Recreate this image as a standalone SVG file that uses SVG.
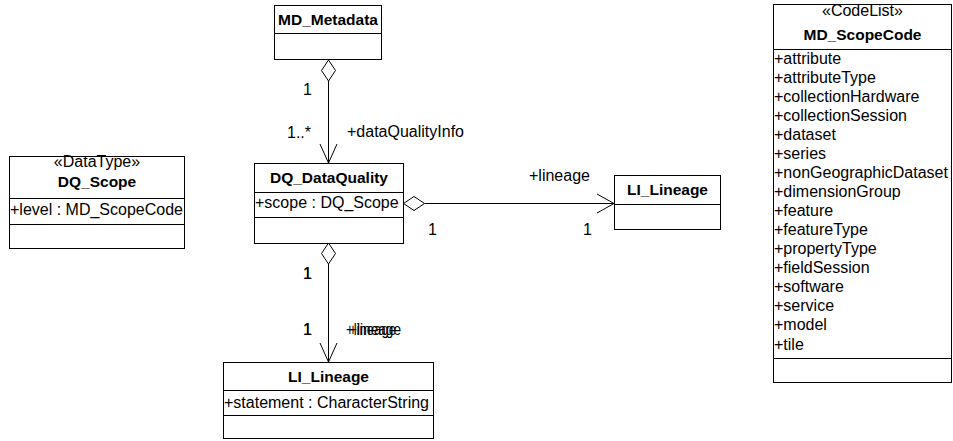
<svg xmlns="http://www.w3.org/2000/svg" width="953" height="441" viewBox="0 0 953 441">
<style>
.box{fill:#fff;stroke:#000;stroke-width:1}
.div{stroke:#000;stroke-width:1}
.t{font-family:"Liberation Sans",Arial,sans-serif;font-size:16px;fill:#000}
.b{font-family:"Liberation Sans",Arial,sans-serif;font-size:15.5px;font-weight:bold;fill:#000}
.c{text-anchor:middle}
.ln{stroke:#000;stroke-width:1;fill:none}
.dia{stroke:#000;stroke-width:1;fill:#fff}
</style>
<rect width="953" height="441" fill="#fff"/>
<g id="connectors">
  <!-- MD_Metadata to DQ_DataQuality -->
  <line class="ln" x1="328.5" y1="81" x2="328.5" y2="163"/>
  <polygon class="dia" points="328.5,60 335.5,70.5 328.5,81 321.5,70.5"/>
  <polyline class="ln" points="320,144 328.5,163 337,144"/>
  <text class="t" x="303" y="95">1</text>
  <text class="t" x="287" y="138">1..*</text>
  <text class="t" x="347" y="137">+dataQualityInfo</text>
  <!-- DQ_DataQuality to LI_Lineage (right) -->
  <line class="ln" x1="425" y1="203.5" x2="614" y2="203.5"/>
  <polygon class="dia" points="403.5,203.5 414,196.5 424.5,203.5 414,210.5"/>
  <polyline class="ln" points="597,194 614,203.5 597,213"/>
  <text class="t" x="529" y="181">+lineage</text>
  <text class="t" x="428" y="235">1</text>
  <text class="t" x="583" y="235">1</text>
  <!-- DQ_DataQuality to LI_Lineage (bottom) -->
  <line class="ln" x1="328.5" y1="264" x2="328.5" y2="362"/>
  <polygon class="dia" points="328.5,243 335.5,253.5 328.5,264 321.5,253.5"/>
  <polyline class="ln" points="320,343 328.5,362 337,343"/>
  <text class="t" x="303" y="279">1</text>
  <text class="t" x="303" y="279">1</text>
  <text class="t" x="303" y="335">1</text>
  <text class="t" x="303" y="335">1</text>
  <text class="t" x="346" y="335" font-size="14" textLength="50" lengthAdjust="spacingAndGlyphs">+lineage</text>
  <text class="t" x="349" y="335" font-size="14" textLength="52" lengthAdjust="spacingAndGlyphs">+lineage</text>
</g>
<g id="MD_Metadata">
  <rect class="box" x="274.5" y="5.5" width="107" height="54"/>
  <line class="div" x1="274.5" y1="33.5" x2="381.5" y2="33.5"/>
  <text class="b c" x="328" y="25">MD_Metadata</text>
</g>
<g id="DQ_DataQuality">
  <rect class="box" x="254.5" y="163.5" width="149" height="80"/>
  <line class="div" x1="254.5" y1="192.5" x2="403.5" y2="192.5"/>
  <line class="div" x1="254.5" y1="217.5" x2="403.5" y2="217.5"/>
  <text class="b c" x="329" y="183">DQ_DataQuality</text>
  <text class="t" x="255" y="208">+scope : DQ_Scope</text>
</g>
<g id="DQ_Scope">
  <rect class="box" x="9.5" y="156.5" width="175" height="92"/>
  <line class="div" x1="9.5" y1="198.5" x2="184.5" y2="198.5"/>
  <line class="div" x1="9.5" y1="224.5" x2="184.5" y2="224.5"/>
  <text class="t c" x="97" y="167">«DataType»</text>
  <text class="b c" x="97" y="187">DQ_Scope</text>
  <text class="t" x="10" y="215">+level : MD_ScopeCode</text>
</g>
<g id="LI_Lineage_right">
  <rect class="box" x="614.5" y="175.5" width="106" height="54"/>
  <line class="div" x1="614.5" y1="204.5" x2="720.5" y2="204.5"/>
  <text class="b c" x="667.5" y="195">LI_Lineage</text>
</g>
<g id="LI_Lineage_bottom">
  <rect class="box" x="223.5" y="362.5" width="210" height="76"/>
  <line class="div" x1="223.5" y1="390.5" x2="433.5" y2="390.5"/>
  <line class="div" x1="223.5" y1="415.5" x2="433.5" y2="415.5"/>
  <text class="b c" x="328.5" y="382">LI_Lineage</text>
  <text class="t" x="224" y="408">+statement : CharacterString</text>
</g>
<g id="MD_ScopeCode">
  <rect class="box" x="773.5" y="4.5" width="178" height="378"/>
  <line class="div" x1="773.5" y1="49.5" x2="951.5" y2="49.5"/>
  <line class="div" x1="773.5" y1="358.5" x2="951.5" y2="358.5"/>
  <text class="t c" x="862.5" y="16">«CodeList»</text>
  <text class="b c" x="862.5" y="40">MD_ScopeCode</text>
  <text class="t" x="774" y="64">+attribute</text>
  <text class="t" x="774" y="83">+attributeType</text>
  <text class="t" x="774" y="102">+collectionHardware</text>
  <text class="t" x="774" y="121">+collectionSession</text>
  <text class="t" x="774" y="140">+dataset</text>
  <text class="t" x="774" y="159">+series</text>
  <text class="t" x="774" y="178">+nonGeographicDataset</text>
  <text class="t" x="774" y="197">+dimensionGroup</text>
  <text class="t" x="774" y="216">+feature</text>
  <text class="t" x="774" y="235">+featureType</text>
  <text class="t" x="774" y="254">+propertyType</text>
  <text class="t" x="774" y="273">+fieldSession</text>
  <text class="t" x="774" y="292">+software</text>
  <text class="t" x="774" y="311">+service</text>
  <text class="t" x="774" y="330">+model</text>
  <text class="t" x="774" y="350">+tile</text>
</g>
</svg>
